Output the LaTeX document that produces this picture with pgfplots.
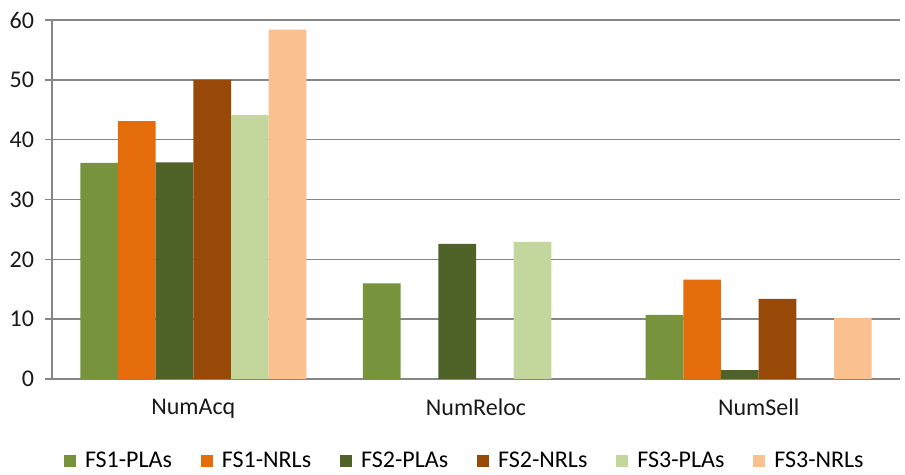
\documentclass[border=0pt]{standalone}
\usepackage{fontspec}
\setmainfont{Carlito}
\usepackage{pgfplots}
\pgfplotsset{compat=1.18}

\definecolor{fsonepla}{HTML}{77933C}
\definecolor{fsonenrl}{HTML}{E46C0A}
\definecolor{fstwopla}{HTML}{4F6228}
\definecolor{fstwonrl}{HTML}{984807}
\definecolor{fsthreepla}{HTML}{C3D69B}
\definecolor{fsthreenrl}{HTML}{FAC090}
\definecolor{gridgray}{HTML}{868686}

\begin{document}
\begin{tikzpicture}
\useasboundingbox (-26pt,-48pt) rectangle (426.5pt,189.5pt);
\begin{axis}[
	scale only axis,
	width=424pt, height=179.5pt,
	ybar=0pt,
	bar width=0.1333,
	xmin=-0.5, xmax=2.5,
	ymin=0, ymax=60,
	ytick distance=10,
	xtick={0,1,2},
	xticklabels={NumAcq, NumReloc, NumSell},
	major x tick style={draw=none},
	extra x ticks={-0.5,0.5,1.5,2.5},
	extra x tick labels={},
	extra x tick style={major tick length=5pt, tick style={draw=gridgray, line width=0.75pt}},
	tick align=outside,
	major tick length=3.5pt,
	ymajorgrids,
	grid style={gridgray, line width=0.75pt},
	axis x line*=bottom,
	axis y line*=left,
	axis line style={gridgray, line width=0.75pt, -},
	y tick style={gridgray, line width=0.75pt},
	tick label style={font=\fontsize{12}{14}\selectfont, text=black!90},
	/pgf/number format/assume math mode=true,
	xticklabel style={yshift=-3pt},
	yticklabel style={xshift=-2pt},
	legend columns=6,
	legend style={at={(0.488,-0.228)}, anchor=center, draw=none,
		font=\fontsize{12}{14}\selectfont,
		/tikz/every even column/.append style={column sep=12.5pt}},
	legend image code/.code={\fill[#1] (0pt,-3pt) rectangle (6pt,3pt); \path (8.5pt,0pt);},
]
\addplot[fill=fsonepla, draw=none] coordinates {(0,36.1) (1,16.0) (2,10.7)};
\addplot[fill=fsonenrl, draw=none] coordinates {(0,43.1) (2,16.6)};
\addplot[fill=fstwopla, draw=none] coordinates {(0,36.2) (1,22.6) (2,1.5)};
\addplot[fill=fstwonrl, draw=none] coordinates {(0,50.0) (2,13.4)};
\addplot[fill=fsthreepla, draw=none] coordinates {(0,44.1) (1,22.9)};
\addplot[fill=fsthreenrl, draw=none] coordinates {(0,58.4) (2,10.2)};
\legend{FS1-PLAs, FS1-NRLs, FS2-PLAs, FS2-NRLs, FS3-PLAs, FS3-NRLs}
\end{axis}
\end{tikzpicture}
\end{document}
